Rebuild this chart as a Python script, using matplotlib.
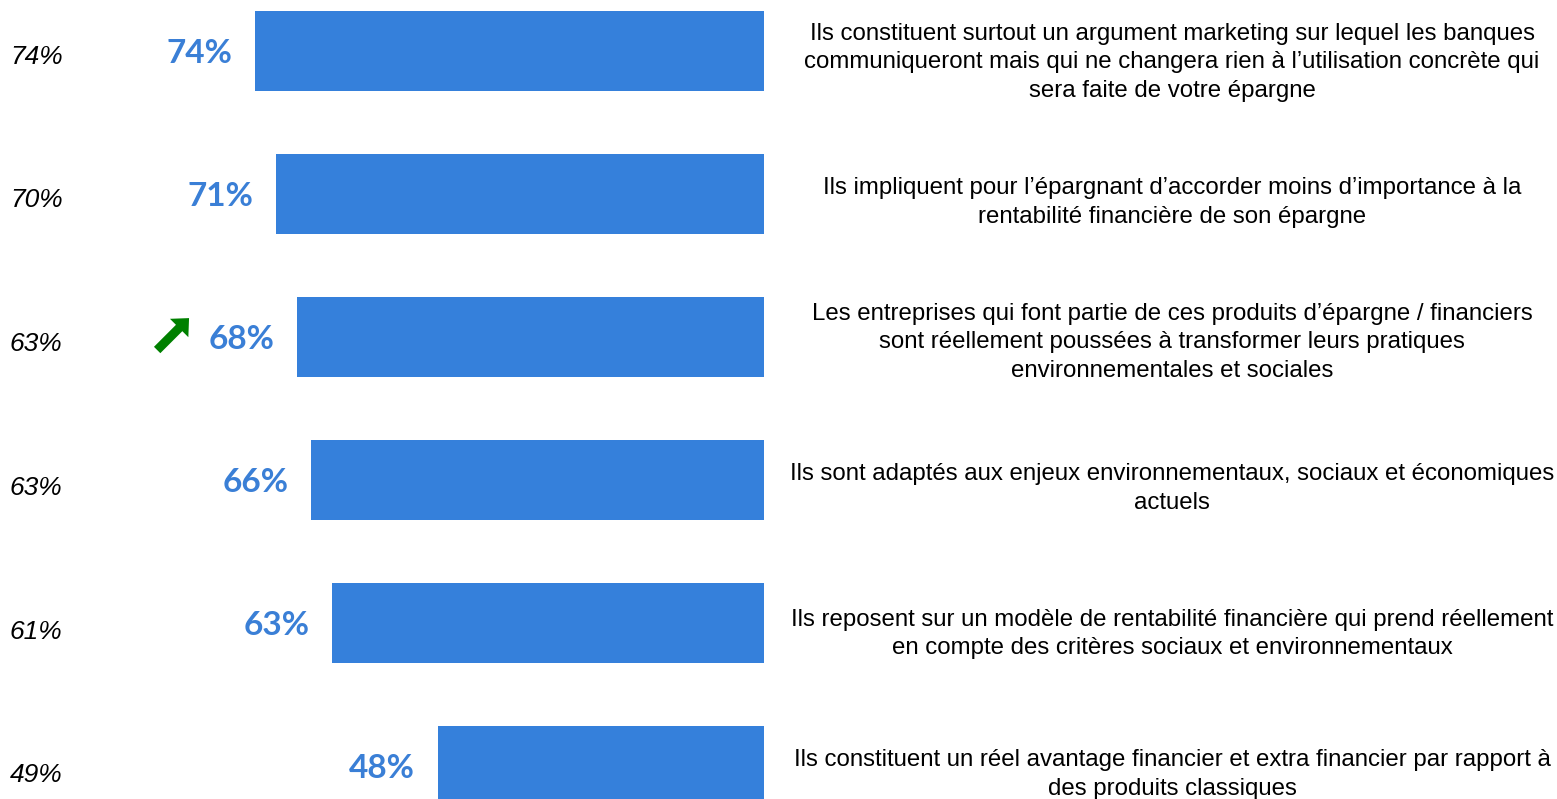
import matplotlib
matplotlib.use("Agg")
import matplotlib.pyplot as plt
from matplotlib.patches import FancyArrow
from matplotlib.transforms import blended_transform_factory

# Survey results: current share and previous wave, per statement
statements = [
    "Ils constituent surtout un argument marketing sur lequel les banques\ncommuniqueront mais qui ne changera rien à l’utilisation concrète qui\nsera faite de votre épargne",
    "Ils impliquent pour l’épargnant d’accorder moins d’importance à la\nrentabilité financière de son épargne",
    "Les entreprises qui font partie de ces produits d’épargne / financiers\nsont réellement poussées à transformer leurs pratiques\nenvironnementales et sociales",
    "Ils sont adaptés aux enjeux environnementaux, sociaux et économiques\nactuels",
    "Ils reposent sur un modèle de rentabilité financière qui prend réellement\nen compte des critères sociaux et environnementaux",
    "Ils constituent un réel avantage financier et extra financier par rapport à\ndes produits classiques",
]
current = [74, 71, 68, 66, 63, 48]
previous = [74, 70, 63, 63, 61, 49]
trend_up = [False, False, True, False, False, False]

BAR_COLOR = "#3580DB"
LABEL_COLOR = "#3A7FD6"

W, H, DPI = 1557, 799, 100
fig = plt.figure(figsize=(W / DPI, H / DPI), dpi=DPI)
fig.patch.set_facecolor("white")

# Bars grow leftwards; the zero baseline sits just past the clipped right edge
ax = fig.add_axes([0, 0, 764 / W, 1])
ax.set_xlim(110.2, 1.7)
ax.set_ylim((H - 51) / 143, -51 / 143)
ax.axis("off")

rows = list(range(len(current)))
ax.barh(rows, current, height=0.553, color=BAR_COLOR, align="center")

for i, v in enumerate(current):
    ax.annotate(f"{v}%", xy=(v, i + 0.02), xytext=(-23, 0),
                textcoords="offset pixels", ha="right", va="center",
                fontsize=24, fontweight="bold", family="Lato",
                color=LABEL_COLOR)

# Previous wave values on the far left, statements on the right
text_offsets = [0.08, 0.058, 0.038, 0.058, 0.078, 0.058]
fig_x = blended_transform_factory(fig.transFigure, ax.transData)
for i, (p, s) in enumerate(zip(previous, statements)):
    fig.text(10 / W, i + 0.04 + 0.005 * i, f"{p}%", transform=fig_x,
             ha="left", va="center", fontsize=19, style="italic",
             family="Liberation Sans", color="black")
    fig.text(1172 / W, i + text_offsets[i], s, transform=fig_x,
             ha="center", va="center", fontsize=17.3, family="Liberation Sans",
             color="black", linespacing=1.38)

# Significant increase marker
fig.canvas.draw()
for i, up in enumerate(trend_up):
    if not up:
        continue
    x0, y0 = ax.transData.transform((current[i], i))
    sx, sy = x0 - 140, y0 - 13
    arr = FancyArrow(sx, sy, 22, 22, width=9, head_width=26, head_length=14,
                     length_includes_head=False, color="#008000",
                     transform=None, linewidth=0)
    fig.patches.append(arr)

fig.savefig("out.png", dpi=DPI, facecolor="white")
